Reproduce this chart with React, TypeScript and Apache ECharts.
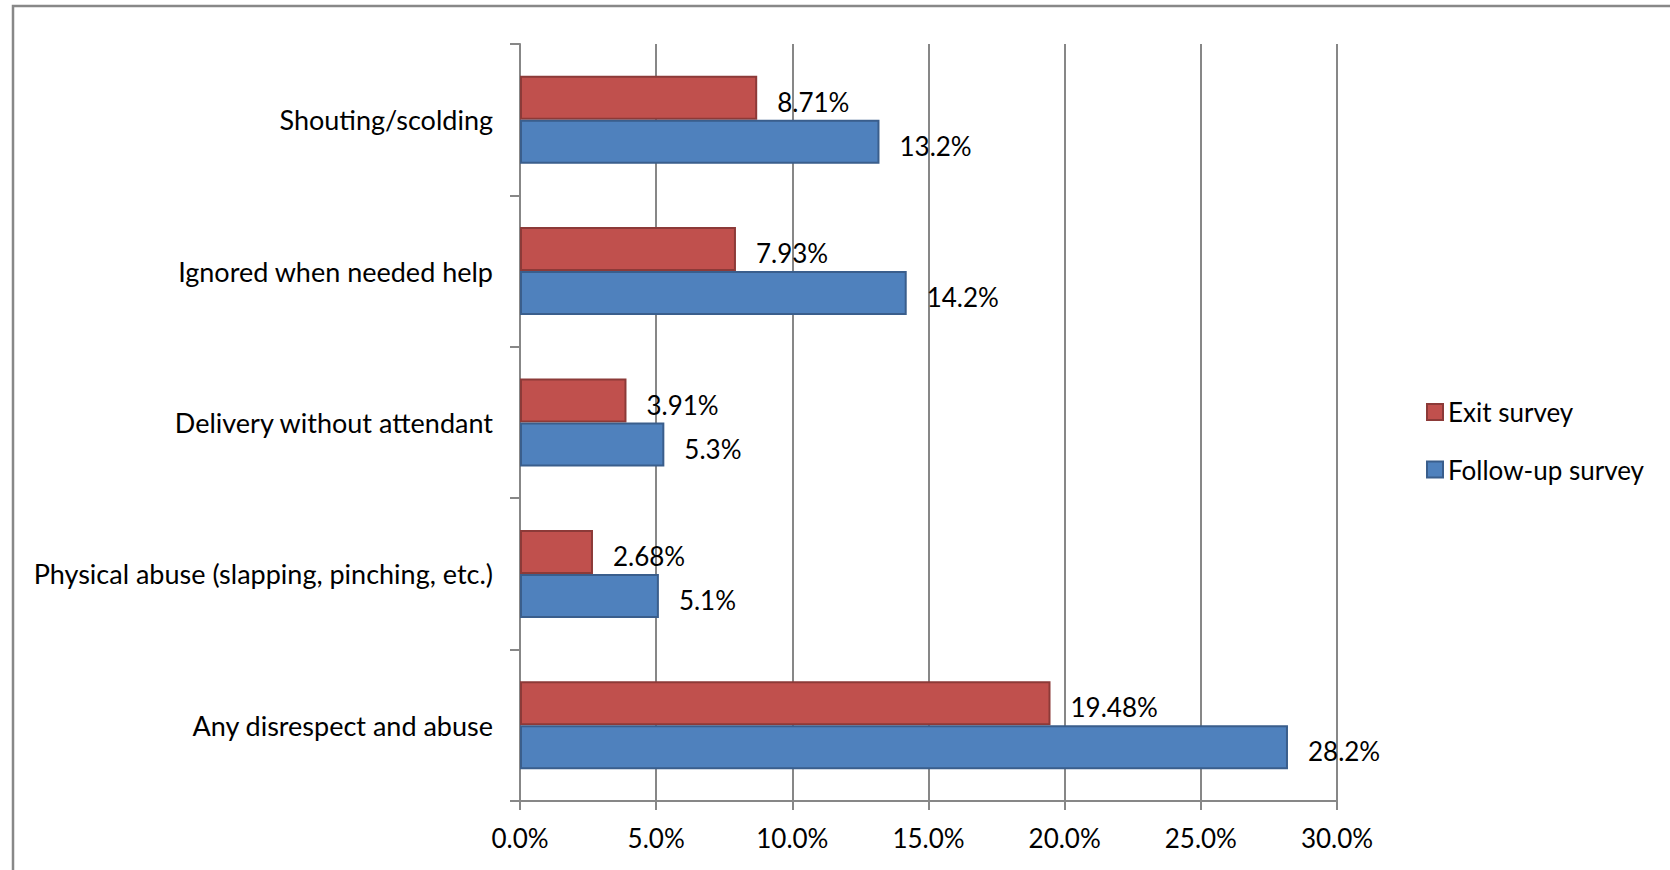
import React, { useEffect, useRef } from "react";
import * as echarts from "echarts";

const categories = [
  "Shouting/scolding",
  "Ignored when needed help",
  "Delivery without attendant",
  "Physical abuse (slapping, pinching, etc.)",
  "Any disrespect and abuse",
];
const seriesNames = ["Exit survey", "Follow-up survey"];
const exitSurvey = [8.71, 7.93, 3.91, 2.68, 19.48];
const followUpSurvey = [13.2, 14.2, 5.3, 5.1, 28.2];
const exitDecimals = 2;
const followUpDecimals = 1;
const xMin = 0;
const xMax = 30;
const xInterval = 5;

const FONT = "Lato";
const FS = 26;
const GRAY = "#878787";

export default function App() {
  const ref = useRef<HTMLDivElement>(null);
  useEffect(() => {
    if (!ref.current) return;
    const chart = echarts.init(ref.current, undefined, { renderer: "svg" });
    const labelCommon = {
      show: true,
      position: "right" as const,
      distance: 20,
      offset: [0, 4],
      fontFamily: FONT,
      fontSize: FS,
      color: "#000",
    };
    chart.setOption({
      animation: false,
      backgroundColor: "#fff",
      textStyle: { fontFamily: FONT },
      graphic: [
        {
          type: "rect",
          shape: { x: 13, y: 6, width: 1700, height: 900 },
          style: { fill: "none", stroke: "#888", lineWidth: 2.5 },
          silent: true,
        },
      ],
      grid: {
        left: 520,
        right: 333,
        top: 44,
        bottom: 69,
        containLabel: false,
        outerBoundsMode: "none",
      },
      legend: {
        orient: "vertical",
        left: 1421,
        top: 392,
        itemWidth: 16,
        itemHeight: 16,
        itemGap: 27.5,
        icon: "rect",
        data: seriesNames,
        textStyle: { fontFamily: FONT, fontSize: FS, color: "#000", lineHeight: 30 },
      },
      xAxis: {
        type: "value",
        min: xMin,
        max: xMax,
        interval: xInterval,
        axisLine: { show: true, lineStyle: { color: GRAY, width: 2 } },
        axisTick: { show: true, length: 9, lineStyle: { color: GRAY, width: 2 } },
        splitLine: { show: true, lineStyle: { color: GRAY, width: 2 } },
        axisLabel: {
          margin: 24,
          fontFamily: FONT,
          fontSize: FS,
          color: "#000",
          formatter: (v: number) => v.toFixed(1) + "%",
        },
      },
      yAxis: {
        type: "category",
        data: categories,
        inverse: true,
        axisLine: { show: true, lineStyle: { color: GRAY, width: 2 } },
        axisTick: { show: true, length: 10, lineStyle: { color: GRAY, width: 2 } },
        axisLabel: {
          margin: 27,
          fontFamily: FONT,
          fontSize: 27,
          color: "#000",
        },
        splitLine: { show: false },
      },
      series: [
        {
          name: seriesNames[0],
          type: "bar",
          data: exitSurvey,
          barWidth: 44,
          barGap: "0%",
          itemStyle: { color: "#C0504D", borderColor: "#8C3A38", borderWidth: 2 },
          label: {
            ...labelCommon,
            formatter: (p: any) => Number(p.value).toFixed(exitDecimals) + "%",
          },
        },
        {
          name: seriesNames[1],
          type: "bar",
          data: followUpSurvey,
          barWidth: 44,
          barGap: "0%",
          itemStyle: { color: "#4F81BD", borderColor: "#3A5E8C", borderWidth: 2 },
          label: {
            ...labelCommon,
            formatter: (p: any) => Number(p.value).toFixed(followUpDecimals) + "%",
          },
        },
      ],
    });
    return () => chart.dispose();
  }, []);
  return (
    <div
      ref={ref}
      style={{ position: "fixed", left: 0, top: 0, width: 1670, height: 870 }}
    />
  );
}
